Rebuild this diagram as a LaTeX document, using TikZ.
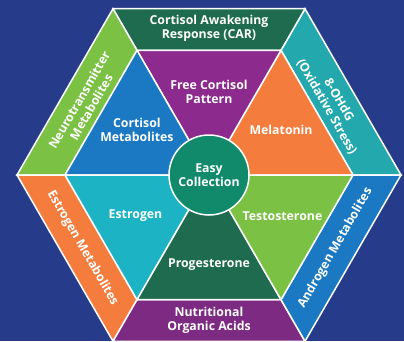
\documentclass[tikz,border=0pt]{standalone}
\usepackage{fontspec}
\setsansfont{Open Sans}
\definecolor{bgblue}{HTML}{273B8B}
\definecolor{dkgreen}{HTML}{1E6B4F}
\definecolor{tealc}{HTML}{22A8AD}
\definecolor{cyanc}{HTML}{1CB3C4}
\definecolor{bluec}{HTML}{1A79C2}
\definecolor{purplec}{HTML}{7C2A82}
\definecolor{violetc}{HTML}{8C2A8D}
\definecolor{orangec}{HTML}{F47D3E}
\definecolor{limec}{HTML}{7BC143}
\definecolor{circc}{HTML}{108A6B}
\tikzset{
  lbl/.style={text=white, font=\sffamily\bfseries\fontsize{12.3}{14}\selectfont, align=center},
  seg/.style={draw=white, line width=1.5pt, line join=miter}
}
\begin{document}
\begin{tikzpicture}[x=1pt,y=1pt]
        \fill [bgblue] (-209,-166) rectangle (195,175);
        \useasboundingbox (-209,-166) rectangle (195,175);

        \coordinate (c) at (0,0);
        \foreach \k in {0,...,5} {
            \coordinate (o\k) at (60*\k:192);
            \coordinate (i\k) at (60*\k:144);
        }

        % outer ring
        \filldraw [seg, fill=tealc] (o0) -- (o1) -- (i1) -- (i0) -- cycle;
        \filldraw [seg, fill=dkgreen] (o1) -- (o2) -- (i2) -- (i1) -- cycle;
        \filldraw [seg, fill=limec] (o2) -- (o3) -- (i3) -- (i2) -- cycle;
        \filldraw [seg, fill=orangec] (o3) -- (o4) -- (i4) -- (i3) -- cycle;
        \filldraw [seg, fill=purplec] (o4) -- (o5) -- (i5) -- (i4) -- cycle;
        \filldraw [seg, fill=bluec] (o5) -- (o0) -- (i0) -- (i5) -- cycle;

        % inner triangles
        \filldraw [seg, fill=orangec] (c) -- (i0) -- (i1) -- cycle;
        \filldraw [seg, fill=violetc] (c) -- (i1) -- (i2) -- cycle;
        \filldraw [seg, fill=bluec] (c) -- (i2) -- (i3) -- cycle;
        \filldraw [seg, fill=cyanc] (c) -- (i3) -- (i4) -- cycle;
        \filldraw [seg, fill=dkgreen] (c) -- (i4) -- (i5) -- cycle;
        \filldraw [seg, fill=limec] (c) -- (i5) -- (i0) -- cycle;

        \node (easy) at (c) [lbl, circle, fill=circc, draw=white, line width=1.5pt, minimum size=80pt, inner sep=0pt] {Easy\\Collection};

        \node (car) at (0,147) [lbl] {Cortisol Awakening\\Response (CAR)};
        \node (ohdg) at (30:143) [lbl, rotate=-60] {8-OHdG\\(Oxidative Stress)};
        \node (neuro) at (150:143) [lbl, rotate=60] {Neurotransmitter\\Metabolites};
        \node (estmet) at (210:146) [lbl, rotate=-60] {Estrogen Metabolites};
        \node (andro) at (330:146) [lbl, rotate=60] {Androgen Metabolites};
        \node (nutri) at (0,-145) [lbl] {Nutritional\\Organic Acids};

        \node (melat) at (32:85) [lbl] {Melatonin};
        \node (freecort) at (90:83) [lbl] {Free Cortisol\\Pattern};
        \node (cortmet) at (148:85) [lbl] {Cortisol\\Metabolites};
        \node (estro) at (209:84) [lbl] {Estrogen};
        \node (proges) at (270:90) [lbl] {Progesterone};
        \node (testo) at (331:84) [lbl] {Testosterone};
    \end{tikzpicture}
\end{document}
